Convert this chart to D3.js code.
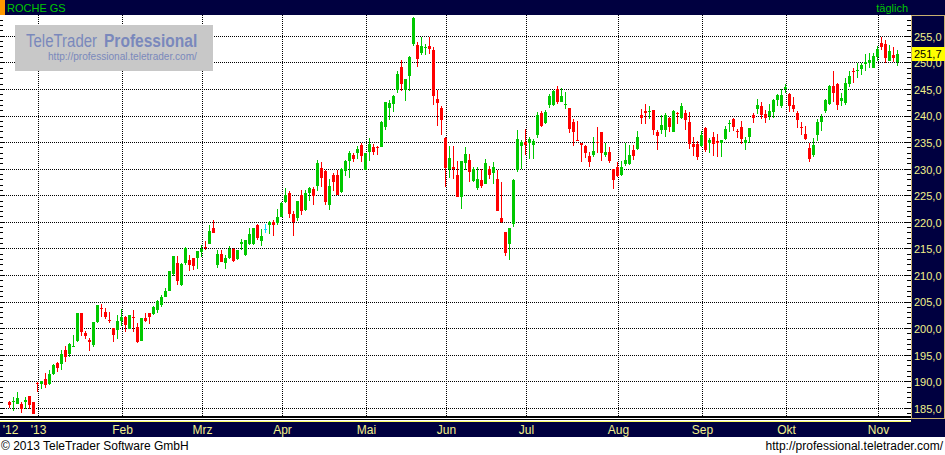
<!DOCTYPE html>
<html><head><meta charset="utf-8">
<script src="https://cdn.jsdelivr.net/npm/d3@7"></script>
<style>
html,body{margin:0;padding:0;background:#fff;}
svg{display:block;font-family:"Liberation Sans",Arial,sans-serif;}
</style></head><body>
<svg id="c" width="945" height="455"></svg>
<script>
// ---- data (ROCHE GS, daily, Dec 2012 - Nov 2013) ----
const title = "ROCHE GS";
const period = "täglich";
const lastLabel = "251,7";
const opens = [186.1,186.1,185.9,185.8,186.1,187.3,186.1,189.8,189.6,190.5,189.6,191.5,193.5,193.4,196.0,195.3,196.6,197.6,202.9,199.2,197.9,196.9,201.3,203.8,203.1,201.7,200.1,199.7,201.5,202.2,200.0,202.1,200.3,197.7,202.0,202.9,202.8,203.5,204.5,206.0,207.1,210.3,212.3,208.2,212.3,213.0,213.2,213.3,214.5,215.4,216.0,218.9,212.0,214.0,212.4,213.3,215.0,213.1,216.0,213.9,216.0,216.0,219.5,216.4,218.8,219.5,220.1,219.9,221.0,223.8,225.6,221.6,220.9,225.1,222.4,225.6,226.3,226.9,230.3,229.7,223.3,228.9,228.9,225.7,229.7,231.6,232.7,233.0,234.6,229.9,233.3,234.2,234.1,234.2,238.0,241.6,242.3,244.9,249.2,244.9,247.6,253.6,253.4,251.8,252.85,253.2,252.4,243.2,241.5,235.9,230.0,230.4,228.9,224.7,231.1,231.7,227.8,226.5,228.0,227.3,230.0,229.3,228.1,220.9,218.1,215.9,219.6,229.8,234.4,235.1,235.0,234.6,236.4,240.6,238.6,242.1,242.1,245.0,242.7,242.1,241.6,238.8,235.5,235.0,234.4,232.5,232.7,235.1,236.9,232.7,233.3,230.1,230.4,228.9,231.0,231.0,233.6,233.8,240.2,241.0,240.8,241.1,236.9,237.4,237.4,239.6,236.9,240.6,239.6,240.6,238.8,234.7,234.7,234.4,237.7,235.0,236.0,235.3,235.0,235.7,238.55,239.4,237.2,237.9,235.0,236.1,240.2,241.3,241.9,240.3,240.0,240.8,243.0,241.8,245.0,244.1,242.1,240.5,238.0,236.7,233.9,232.7,236.4,238.9,240.9,242.3,245.7,246.0,242.8,242.4,246.0,248.5,248.5,248.9,249.8,250.0,249.1,251.1,253.7,253.5,250.4,251.5,250.1];
const highs = [186.4,187.1,188.1,186.1,187.2,187.4,186.1,190.0,190.2,191.6,192.2,193.3,193.7,195.9,196.8,197.2,198.8,203.0,203.0,199.6,198.3,201.2,204.5,204.6,203.8,203.1,200.1,202.6,203.6,202.4,202.6,203.5,201.0,202.0,202.9,202.9,204.3,205.4,206.3,207.6,210.9,213.7,213.7,212.3,215.4,213.9,213.3,214.6,215.7,216.5,219.5,220.4,214.7,214.7,213.9,215.6,215.1,214.7,216.8,216.7,218.9,219.0,219.6,218.8,219.7,220.2,220.5,222.5,223.8,226.4,225.8,222.1,224.1,226.1,226.1,226.7,226.6,231.8,231.4,229.8,228.2,229.3,229.9,230.2,231.8,233.5,233.0,234.4,235.0,233.1,235.8,234.7,234.3,239.0,242.7,243.0,244.0,248.5,250.6,247.0,251.2,258.7,253.9,254.8,253.6,254.8,253.0,244.9,241.9,236.1,234.4,234.4,231.5,231.5,234.2,232.8,230.4,230.4,230.0,231.9,230.6,231.4,229.8,227.5,218.1,219.0,228.1,237.4,235.5,237.6,236.1,235.7,240.7,241.0,241.1,244.1,244.9,245.6,245.2,244.6,241.6,239.4,239.1,235.0,234.6,233.2,236.1,238.0,236.9,235.0,234.1,230.1,231.4,231.6,235.0,234.6,234.6,237.1,241.3,242.3,241.9,241.2,237.4,240.1,240.6,239.9,241.1,240.8,242.5,241.2,240.7,236.0,235.3,237.2,238.0,235.9,236.9,236.6,235.5,238.2,239.2,239.7,237.6,239.1,236.1,237.7,240.5,243.2,242.6,241.1,242.3,243.2,244.1,245.1,246.0,244.4,243.5,240.9,238.9,238.2,235.0,235.8,239.4,240.3,243.2,245.8,248.4,246.2,244.3,247.2,248.4,249.0,250.0,249.9,251.7,251.8,251.8,253.1,254.9,254.3,253.4,252.9,252.4];
const lows = [185.0,184.4,185.8,184.2,184.8,184.8,184.0,188.1,188.6,188.9,189.4,191.3,191.9,192.2,193.7,194.7,196.5,197.5,198.6,198.1,195.7,196.6,201.1,202.1,201.8,201.1,197.5,198.1,200.5,199.4,199.9,199.4,197.3,197.7,201.3,200.9,202.6,202.9,204.1,205.9,207.1,209.9,208.2,208.1,212.0,210.9,211.0,211.2,213.4,214.7,216.0,217.9,211.4,212.5,211.3,213.1,212.5,213.0,214.7,213.6,215.8,215.8,216.6,215.6,218.0,217.8,217.5,219.4,221.0,223.6,220.9,217.5,220.3,221.4,222.2,224.1,223.3,225.9,226.6,223.3,222.4,225.8,225.1,225.5,228.8,228.4,231.3,231.9,231.4,229.8,231.6,232.7,232.6,234.1,237.3,239.2,240.8,244.4,244.7,242.9,244.7,253.1,249.3,251.5,251.4,251.7,242.1,238.2,236.5,226.7,228.4,228.1,224.8,222.5,229.8,227.5,227.5,226.1,226.5,227.2,228.1,227.2,222.2,219.9,213.6,212.9,219.2,229.4,230.1,232.7,231.9,231.9,235.9,238.0,238.5,241.6,241.9,242.3,242.6,241.4,236.8,234.4,235.3,231.4,232.1,230.5,232.3,233.0,231.6,232.3,231.1,226.3,228.6,228.8,230.6,230.8,231.8,233.6,238.5,238.5,239.4,236.4,233.6,236.6,236.1,236.9,236.9,238.5,239.4,237.4,233.8,232.5,231.7,234.2,233.2,233.0,232.5,232.3,232.3,235.4,236.9,237.2,235.8,234.7,233.6,235.0,238.7,240.3,239.4,238.7,239.2,239.6,241.8,241.6,244.3,240.7,240.8,237.7,236.4,235.5,231.3,232.3,235.3,237.2,240.5,242.1,242.6,241.1,241.9,242.1,245.4,246.2,247.1,247.7,248.5,249.0,249.0,250.4,252.4,249.9,250.4,250.1,249.5];
const closes = [185.7,186.3,186.9,184.9,186.6,185.7,184.0,189.6,190.1,189.3,191.5,193.2,192.5,195.2,194.6,197.1,196.8,202.9,199.4,198.6,197.4,201.2,204.4,203.6,202.2,201.5,198.7,201.4,202.1,200.7,202.6,201.9,197.4,202.0,201.5,202.1,204.1,205.1,205.9,207.1,210.8,213.7,209.0,212.2,215.2,212.0,211.8,214.6,214.9,215.1,218.4,217.9,214.0,212.6,213.2,215.0,212.8,214.7,216.3,216.6,217.8,218.9,217.0,217.5,218.8,220.1,219.5,221.0,223.6,225.1,221.6,220.0,224.1,222.2,225.6,226.4,225.0,231.2,228.4,223.8,226.9,227.5,225.1,230.0,231.6,233.0,231.9,233.8,232.5,233.0,234.7,233.3,234.0,238.9,242.7,242.4,243.8,247.9,246.0,247.0,251.1,258.5,250.7,253.1,252.95,252.6,243.7,242.5,239.2,230.3,232.1,230.0,224.8,231.5,232.9,229.5,230.0,228.1,226.8,231.1,228.9,230.4,222.2,220.0,214.2,219.0,228.0,235.7,235.1,234.6,235.7,235.3,240.2,238.1,240.8,243.8,244.7,242.6,243.8,242.3,237.6,236.9,235.4,234.6,233.1,231.3,233.4,234.9,233.1,233.3,231.6,228.0,228.8,230.4,231.8,232.7,232.4,236.0,239.7,240.6,241.0,237.4,236.3,238.3,240.2,237.9,240.9,240.4,241.9,239.3,234.7,234.2,232.2,236.4,233.6,235.5,234.7,235.0,235.5,237.6,238.7,238.0,236.9,235.7,235.5,237.7,239.7,242.1,240.2,239.7,240.9,243.0,244.0,244.0,245.5,241.8,241.3,239.2,237.9,235.6,232.0,234.5,238.8,239.8,243.0,245.7,244.4,242.1,243.3,246.3,247.5,248.2,248.7,249.6,250.1,250.5,251.3,252.6,252.9,250.9,252.2,250.9,251.7];
const monthLabels = ["'12","'13","Feb","Mrz","Apr","Mai","Jun","Jul","Aug","Sep","Okt","Nov"];
const monthStartIdx = [0,7,28,48,68,89,109,129,152,173,194,217];
const yTickValues = [185,190,195,200,205,210,215,220,225,230,235,240,245,250,255];

// ---- layout ----
const W = 945, H = 455;
const plotL = 0, plotR = 911, plotT = 15, plotB = 416;
const navy = "#000040";
const svg = d3.select("#c");

const x = d3.scaleLinear().domain([0, opens.length - 1]).range([9, 9 + 4 * (opens.length - 1)]);
const y = d3.scaleLinear().domain([185, 255]).range([408.3, 36.3]);

// background
svg.append("rect").attr("x",0).attr("y",0).attr("width",W).attr("height",H).attr("fill","#fff");
// header
svg.append("rect").attr("x",0).attr("y",0).attr("width",W).attr("height",plotT).attr("fill",navy);
svg.append("rect").attr("x",0).attr("y",0).attr("width",5).attr("height",plotT).attr("fill","#ff9900");
svg.append("text").attr("x",7).attr("y",12).attr("font-size",11).attr("fill","#00c800").text(title);
svg.append("text").attr("x",908).attr("y",12).attr("font-size",11).attr("fill","#00c800").attr("text-anchor","end").text(period);

// plot area
svg.append("rect").attr("x",plotL).attr("y",plotT).attr("width",plotR-plotL).attr("height",plotB-plotT).attr("fill","#fff");

// grid - horizontal
const gy = svg.append("g");
yTickValues.forEach(v => {
  const yy = Math.floor(y(v)) + 0.5;
  gy.append("line").attr("x1",plotL).attr("x2",plotR).attr("y1",yy).attr("y2",yy)
    .attr("stroke","#000").attr("stroke-width",1).attr("stroke-dasharray","1,1");
});
// grid - vertical
monthStartIdx.forEach((idx, k) => {
  if (k === 0) return;
  const xx = x(idx) + 1.5;
  gy.append("line").attr("x1",xx).attr("x2",xx).attr("y1",plotT).attr("y2",plotB)
    .attr("stroke","#000").attr("stroke-width",1).attr("stroke-dasharray","1,1");
});

// minor ticks on left and right edges
const minorVals = d3.range(184, 259, 1);
minorVals.forEach(v => {
  const yy = Math.floor(y(v)) + 0.5;
  if (yy < plotT || yy > plotB) return;
  const major = v % 5 === 0;
  svg.append("line").attr("x1",0).attr("x2",major?5:3).attr("y1",yy).attr("y2",yy).attr("stroke","#000");
  svg.append("line").attr("x1",plotR-(major?6:4)).attr("x2",plotR).attr("y1",yy).attr("y2",yy).attr("stroke","#000");
});

// watermark
const wm = svg.append("g");
wm.append("rect").attr("x",15).attr("y",25).attr("width",198).attr("height",46).attr("fill","#c8c8c8");
wm.append("text").attr("transform","translate(26,47) scale(0.81,1)").attr("font-size",18.5).attr("fill","#7a88bc")
  .text("TeleTrader");
wm.append("text").attr("transform","translate(104,47) scale(0.84,1)").attr("font-size",18.5).attr("font-weight","bold").attr("fill","#7a88bc")
  .text("Professional");
wm.append("text").attr("transform","translate(48,59.5) scale(0.96,1)").attr("font-size",10.5).attr("fill","#7a88bc")
  .text("http://professional.teletrader.com/");

// candles
const colorOf = i => closes[i] > opens[i] ? "#00c800" : (closes[i] < opens[i] ? "#ff0000" : "#00e0ff");
const cg = svg.append("g");
d3.range(opens.length).forEach(i => {
  const cx = x(i);
  const c = colorOf(i);
  const yh = Math.round(y(highs[i])), yl = Math.round(y(lows[i]));
  cg.append("rect").attr("x",cx).attr("y",yh).attr("width",1).attr("height",Math.max(1,yl-yh)).attr("fill",c);
  const yt = Math.round(y(Math.max(opens[i],closes[i]))), yb = Math.round(y(Math.min(opens[i],closes[i])));
  cg.append("rect").attr("x",cx-1).attr("y",yt).attr("width",3).attr("height",Math.max(1,yb-yt)).attr("fill",c);
});

// bottom frame lines
svg.append("rect").attr("x",0).attr("y",416).attr("width",plotR).attr("height",2).attr("fill","#000");
svg.append("rect").attr("x",0).attr("y",419).attr("width",plotR).attr("height",1).attr("fill","#000");
// bottom axis bar
svg.append("rect").attr("x",0).attr("y",421).attr("width",W).attr("height",16).attr("fill",navy);
svg.append("rect").attr("x",0).attr("y",421).attr("width",plotR).attr("height",1).attr("fill","#ffff66");
monthStartIdx.forEach((idx,k) => {
  svg.append("text").attr("x", x(idx)+1.5).attr("y",434).attr("font-size",12).attr("fill","#f2f08a")
    .attr("text-anchor","middle").text(monthLabels[k]);
});

// right axis panel
svg.append("rect").attr("x",plotR).attr("y",plotT).attr("width",W-plotR).attr("height",422-plotT).attr("fill",navy);
svg.append("rect").attr("x",plotR+0.5).attr("y",plotT+0.5).attr("width",W-plotR-1).attr("height",418-plotT).attr("fill","none").attr("stroke","#c8b070");
const yAxis = d3.axisRight(y).tickValues(yTickValues).tickSize(0).tickPadding(0)
  .tickFormat(v => d3.format(".1f")(v).replace(".", ","));
const ya = svg.append("g").attr("transform",`translate(914,0)`).call(yAxis);
ya.select(".domain").remove();
ya.selectAll("text").attr("font-size",11).attr("fill","#f2f08a").attr("font-family","'Liberation Sans',Arial,sans-serif").attr("dy","0.35em");

// last price label
const ly = y(closes[closes.length-1]);
svg.append("rect").attr("x",912).attr("y",Math.round(ly)-7).attr("width",33).attr("height",14).attr("fill","#ffff00");
svg.append("text").attr("x",914).attr("y",Math.round(ly)+4).attr("font-size",11).attr("fill","#000").text(lastLabel);

// footer
svg.append("text").attr("x",1).attr("y",450).attr("font-size",12).attr("fill","#000").text("© 2013 TeleTrader Software GmbH");
svg.append("text").attr("x",943).attr("y",450).attr("font-size",12).attr("fill","#000").attr("text-anchor","end").text("http://professional.teletrader.com/");
</script>
</body></html>
